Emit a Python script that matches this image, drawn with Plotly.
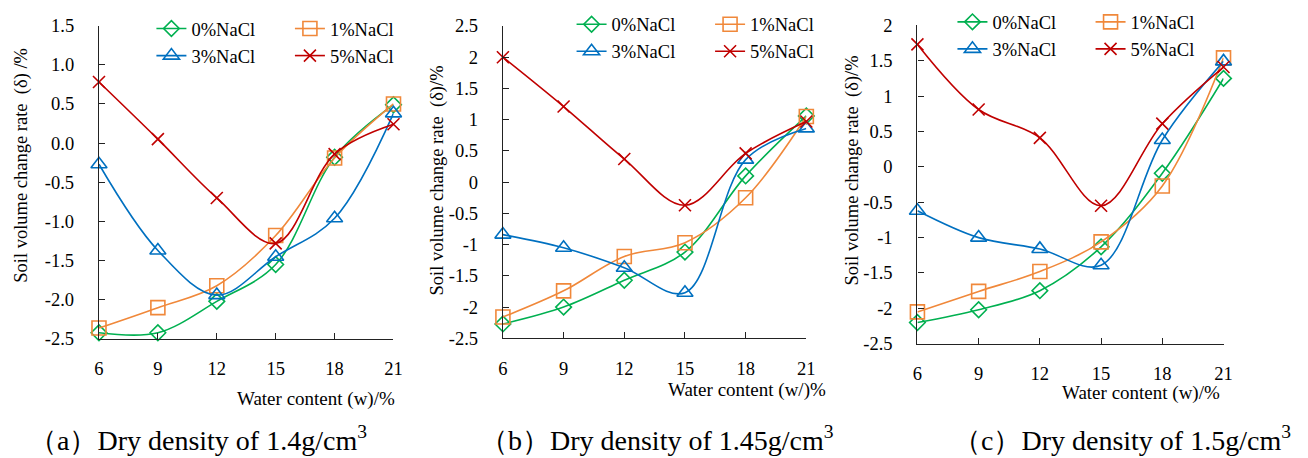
import plotly.graph_objects as go

# Water content (%) on the x axis
water = [6, 9, 12, 15, 18, 21]
x_ticks = ["6", "9", "12", "15", "18", "21"]

series_names = ["0%NaCl", "1%NaCl", "3%NaCl", "5%NaCl"]

# Soil volume change rate (%) -- dry density 1.4 g/cm3
a_0 = [-2.42, -2.42, -2.02, -1.55, -0.18, 0.49]
a_1 = [-2.36, -2.10, -1.82, -1.18, -0.19, 0.50]
a_3 = [-0.27, -1.37, -1.94, -1.45, -0.96, 0.38]
a_5 = [0.78, 0.05, -0.70, -1.28, -0.14, 0.24]

# dry density 1.45 g/cm3
b_0 = [-2.27, -2.00, -1.57, -1.12, 0.10, 1.06]
b_1 = [-2.16, -1.74, -1.19, -0.97, -0.25, 1.05]
b_3 = [-0.84, -1.05, -1.37, -1.77, 0.36, 0.86]
b_5 = [2.00, 1.21, 0.37, -0.37, 0.46, 0.97]

# dry density 1.5 g/cm3
c_0 = [-2.20, -2.02, -1.75, -1.13, -0.09, 1.25]
c_1 = [-2.05, -1.76, -1.48, -1.06, -0.27, 1.54]
c_3 = [-0.62, -1.00, -1.16, -1.39, 0.38, 1.49]
c_5 = [1.73, 0.81, 0.41, -0.55, 0.61, 1.41]

# y tick values and labels per panel
a_yvals = [-2.5, -2.0, -1.5, -1.0, -0.5, 0.0, 0.5, 1.0, 1.5]
a_ylabels = ["-2.5", "-2.0", "-1.5", "-1.0", "-0.5", "0.0", "0.5", "1.0", "1.5"]
b_yvals = [-2.5, -2, -1.5, -1, -0.5, 0, 0.5, 1, 1.5, 2, 2.5]
b_ylabels = ["-2.5", "-2", "-1.5", "-1", "-0.5", "0", "0.5", "1", "1.5", "2", "2.5"]
c_yvals = [-2.5, -2, -1.5, -1, -0.5, 0, 0.5, 1, 1.5, 2]
c_ylabels = ["-2.5", "-2", "-1.5", "-1", "-0.5", "0", "0.5", "1", "1.5", "2"]

captions = ["（a）Dry density of 1.4g/cm<sup>3</sup>",
            "（b）Dry density of 1.45g/cm<sup>3</sup>",
            "（c）Dry density of 1.5g/cm<sup>3</sup>"]
x_titles = ["Water content (w)/%", "Water content (w/)%", "Water content (w)/%"]
y_titles = ["Soil volume change rate \u00a0(δ) /%",
            "Soil volume change rate \u00a0(δ)/%",
            "Soil volume change rate \u00a0(δ)/%"]

W, H = 1308, 458
FONT = "Liberation Serif, Times New Roman, serif"

colors = ["#00B050", "#F0883A", "#0070C0", "#C00000"]
symbols = ["diamond-open", "square-open", "triangle-up-open", "x-thin-open"]
msizes = [12, 14, 14, 12]

panels = [
    dict(data=[a_0, a_1, a_3, a_5], yvals=a_yvals, ylabels=a_ylabels,
         xpx=(95, 392.7), ypx=(16.3, 344), yr=(-2.5, 1.5),
         leg_text=(188, 328), leg_top=0),
    dict(data=[b_0, b_1, b_3, b_5], yvals=b_yvals, ylabels=b_ylabels,
         xpx=(503.3, 810), ypx=(16.7, 343.3), yr=(-2.5, 2.5),
         leg_text=(612.7, 752.7), leg_top=-4.5),
    dict(data=[c_0, c_1, c_3, c_5], yvals=c_yvals, ylabels=c_ylabels,
         xpx=(922.3, 1231.7), ypx=(16, 349), yr=(-2.5, 2.0),
         leg_text=(997.7, 1137.3), leg_top=-7),
]

fig = go.Figure()
layout = dict(
    width=W, height=H,
    margin=dict(l=0, r=0, t=0, b=0),
    paper_bgcolor="white", plot_bgcolor="white",
    font=dict(family=FONT, size=18, color="black"),
    showlegend=True,
    annotations=[],
)

legend_idx = 0
for i, p in enumerate(panels):
    sfx = "" if i == 0 else str(i + 1)
    xa, ya = "x" + sfx, "y" + sfx
    # two legend columns: (0%, 3%) and (1%, 5%)
    leg_col1 = "legend" + ("" if legend_idx == 0 else str(legend_idx + 1))
    leg_col2 = "legend" + str(legend_idx + 2)
    legend_idx += 2
    for k, (name, vals) in enumerate(zip(series_names, p["data"])):
        fig.add_trace(go.Scatter(
            x=water, y=vals, name=name, mode="lines+markers",
            xaxis=xa, yaxis=ya,
            line=dict(color=colors[k], width=1.6, shape="spline", smoothing=1.0),
            marker=dict(symbol=symbols[k], size=msizes[k], color=colors[k],
                        line=dict(color=colors[k], width=1.6)),
            cliponaxis=False,
            legend=leg_col1 if k in (0, 2) else leg_col2,
        ))
    x0, x1 = p["xpx"]
    y0, y1 = p["ypx"]
    axis_common = dict(showgrid=False, zeroline=False, showline=True,
                       linecolor="#222", linewidth=1.3, ticks="inside",
                       ticklen=6, tickwidth=1.3, tickcolor="#222",
                       tickfont=dict(family=FONT, size=18.5, color="black"))
    layout["xaxis" + sfx] = dict(
        domain=[x0 / W, x1 / W], anchor=ya, range=[6, 21],
        tickvals=water, ticktext=x_ticks, ticklabelstandoff=13, **axis_common)
    layout["yaxis" + sfx] = dict(
        domain=[1 - y1 / H, 1 - y0 / H], anchor=xa, range=list(p["yr"]),
        tickvals=p["yvals"], ticktext=p["ylabels"], ticklabelstandoff=20,
        **axis_common)
    for leg, tx in ((leg_col1, p["leg_text"][0]), (leg_col2, p["leg_text"][1])):
        layout[leg] = dict(
            x=(tx - 40) / W, xanchor="left",
            y=1 - p["leg_top"] / H, yanchor="top",
            orientation="v", bgcolor="rgba(0,0,0,0)", borderwidth=0,
            font=dict(family=FONT, size=18.5, color="black"),
            traceorder="normal", tracegroupgap=0,
        )

# axis titles and captions
xt_right = [396, 832, 1230]
xt_y = [407, 397, 401]
yt_x = [17, 437, 857]
yt_y = [162, 178, 168]
cap_left = [22, 478, 956]
for i in range(3):
    layout["annotations"].append(dict(
        text=x_titles[i], xref="paper", yref="paper",
        x=xt_right[i] / W, y=1 - xt_y[i] / H, xanchor="right", yanchor="middle",
        showarrow=False, font=dict(family=FONT, size=19, color="black")))
    layout["annotations"].append(dict(
        text=y_titles[i], xref="paper", yref="paper", textangle=-90,
        x=yt_x[i] / W, y=1 - yt_y[i] / H, xanchor="center", yanchor="middle",
        showarrow=False, font=dict(family=FONT, size=18.5, color="black")))
    layout["annotations"].append(dict(
        text=captions[i], xref="paper", yref="paper",
        x=cap_left[i] / W, y=1 - 448 / H, xanchor="left", yanchor="middle",
        showarrow=False, font=dict(family=FONT, size=28, color="black")))

fig.update_layout(**layout)
fig.write_html("out.html")
